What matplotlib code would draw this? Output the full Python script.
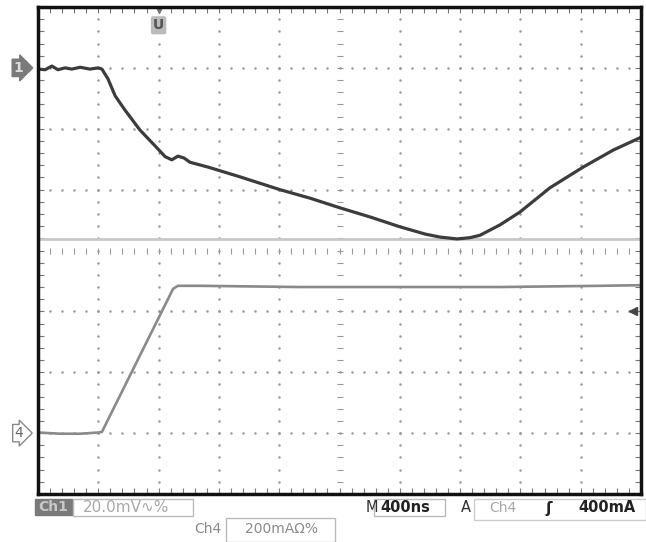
import numpy as np
import matplotlib.pyplot as plt
from matplotlib.patches import Rectangle

# screen coordinates in divisions (10 x 8 graticule, centre = 0)
ch1_x = [0.00, 0.12, 0.23, 0.33, 0.45, 0.56, 0.70, 0.86, 1.00, 1.06, 1.16, 1.28,
         1.44, 1.69, 1.94, 2.11, 2.22, 2.32, 2.42, 2.52, 2.82, 3.35, 4.01, 4.51,
         5.01, 5.51, 6.00, 6.42, 6.67, 6.95, 7.16, 7.33, 7.66, 7.99, 8.49, 9.04,
         9.54, 10.0]
ch1_y = [2.98, 2.97, 3.03, 2.97, 3.00, 2.98, 3.01, 2.98, 3.00, 2.98, 2.82, 2.54,
         2.31, 1.98, 1.72, 1.54, 1.49, 1.55, 1.52, 1.45, 1.37, 1.21, 1.00, 0.86,
         0.70, 0.55, 0.39, 0.27, 0.22, 0.19, 0.21, 0.25, 0.42, 0.63, 1.03, 1.37,
         1.65, 1.86]

ch4_x = [0.00, 0.37, 0.70, 1.00, 1.06, 2.24, 2.32, 2.69, 4.34, 6.00, 7.66, 9.32, 10.0]
ch4_y = [-2.99, -3.01, -3.01, -2.99, -2.98, -0.63, -0.58, -0.58, -0.60, -0.60,
         -0.60, -0.58, -0.57]

ref_level = 0.19
ch1_marker = 3.0
ch4_marker = -3.0
trig_level = -1.0
trig_pos = 2.0

fig = plt.figure(figsize=(6.46, 5.42), dpi=100)
ax = fig.add_axes([38 / 646, 1 - 494 / 542, 603 / 646, 487 / 542])
ax.set_xlim(0, 10)
ax.set_ylim(-4, 4)

# graticule dots
fine_x = np.arange(0, 10.01, 0.2)
fine_y = np.arange(-4, 4.01, 0.2)
for gx in range(1, 10):
    if gx != 5:
        ax.plot([gx] * len(fine_y), fine_y, ls='none', marker='.', ms=1.6,
                color='#999999')
for gy in range(-3, 4):
    if gy != 0:
        ax.plot(fine_x, [gy] * len(fine_x), ls='none', marker='.', ms=1.6,
                color='#999999')
ax.plot(fine_x, [0] * len(fine_x), ls='none', marker='|', ms=5, mew=0.8,
        color='#999999')
ax.plot([5] * len(fine_y), fine_y, ls='none', marker='_', ms=5, mew=0.8,
        color='#999999')

ax.set_xticks(fine_x)
ax.set_yticks(fine_y)
ax.tick_params(direction='in', length=4, width=0.8, color='#777777',
               top=True, right=True, labelbottom=False, labelleft=False)
for s in ax.spines.values():
    s.set_linewidth(2.5)
    s.set_color('#111111')

ax.axhline(ref_level, color='#c8c8c8', lw=2)
ax.plot(ch4_x, ch4_y, color='#8a8a8a', lw=1.9)
ax.plot(ch1_x, ch1_y, color='#3c3c3c', lw=2.3)

# channel markers
ax.text(-0.32, ch1_marker, '1', ha='center', va='center', fontsize=10,
        color='#dddddd', fontweight='bold', clip_on=False,
        bbox=dict(boxstyle='rarrow,pad=0.12', fc='#7a7a7a', ec='#7a7a7a'))
ax.text(-0.32, ch4_marker, '4', ha='center', va='center', fontsize=10,
        color='#666666', clip_on=False,
        bbox=dict(boxstyle='rarrow,pad=0.12', fc='white', ec='#888888'))
ax.text(trig_pos, 3.7, 'U', ha='center', va='center', fontsize=10,
        color='#555555', fontweight='bold',
        bbox=dict(boxstyle='round,pad=0.15', fc='#bbbbbb', ec='none'))
ax.plot([trig_pos], [3.95], marker='v', ms=5, color='#777777', clip_on=False)
ax.plot([9.87], [trig_level], marker='<', ms=6, color='#444444')


def px(x, y):
    return x / 646, 1 - y / 542


def box(x0, y0, x1, y1, fc='none', ec='#bbbbbb'):
    fig.patches.append(Rectangle(px(x0, y1), (x1 - x0) / 646, (y1 - y0) / 542,
                                 transform=fig.transFigure, fc=fc, ec=ec, lw=1))


# status bar
box(35, 499, 72, 515, fc='#7a7a7a', ec='#7a7a7a')
fig.text(*px(53, 507), 'Ch1', ha='center', va='center', fontsize=10,
         color='#c8c8c8', fontweight='bold')
box(73, 499, 193, 516)
fig.text(*px(83, 508), '20.0mV∿%', ha='left', va='center', fontsize=11,
         color='#a8a8a8')

fig.text(*px(366, 508), 'M', ha='left', va='center', fontsize=10.5,
         color='#333333')
box(374, 499, 445, 516)
fig.text(*px(380, 508), '400ns', ha='left', va='center', fontsize=10.5,
         color='#222222', fontweight='bold')
fig.text(*px(461, 508), 'A', ha='left', va='center', fontsize=10.5,
         color='#333333')
box(474, 499, 646, 520, ec='#cccccc')
fig.text(*px(489, 508), 'Ch4', ha='left', va='center', fontsize=10,
         color='#a8a8a8')
fig.text(*px(545, 508), 'ʃ', ha='left', va='center', fontsize=11,
         color='#222222', fontweight='bold')
fig.text(*px(578, 508), '400mA', ha='left', va='center', fontsize=10.5,
         color='#222222', fontweight='bold')

fig.text(*px(194, 529), 'Ch4', ha='left', va='center', fontsize=10,
         color='#8a8a8a')
box(226, 518, 335, 542)
fig.text(*px(245, 529), '200mAΩ%', ha='left', va='center', fontsize=10,
         color='#8a8a8a')

fig.savefig('out.png', dpi=100)
